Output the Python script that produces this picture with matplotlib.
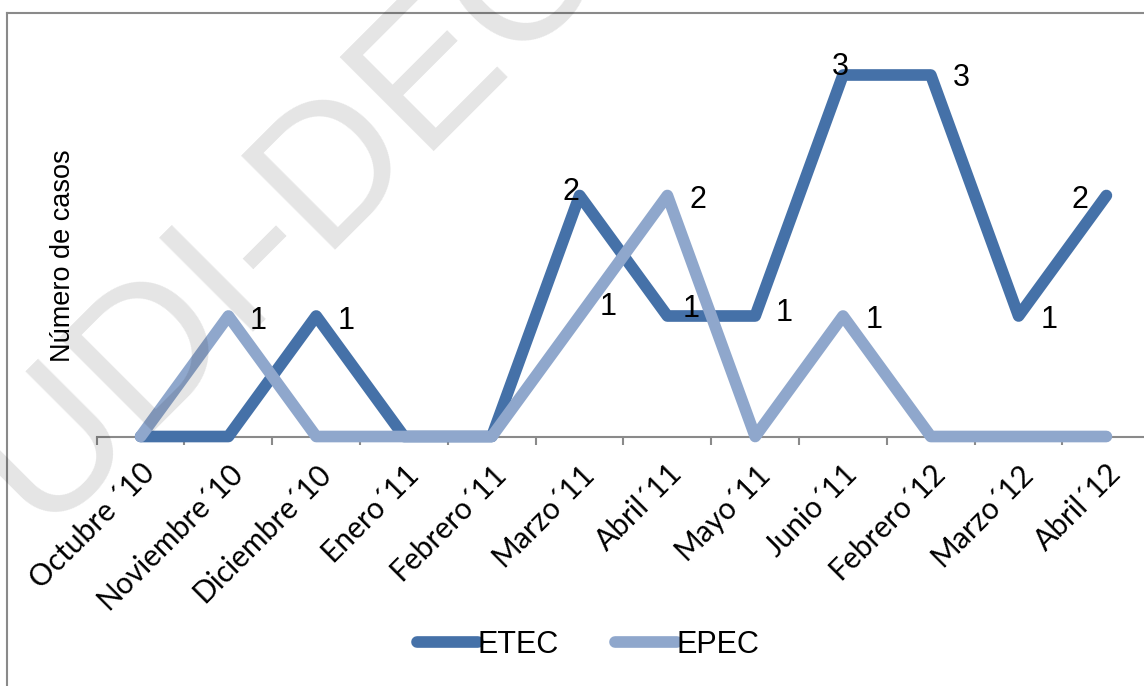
import matplotlib
matplotlib.use("Agg")
import matplotlib.pyplot as plt
from matplotlib.lines import Line2D

categories = ["Octubre \u00b410", "Noviembre\u00b410", "Diciembre\u00b410", "Enero\u00b411",
              "Febrero\u00b411", "Marzo\u00b411", "Abril\u00b411", "Mayo\u00b411",
              "Junio\u00b411", "Febrero\u00b412", "Marzo\u00b412", "Abril\u00b412"]
etec = [0, 0, 1, 0, 0, 2, 1, 1, 3, 3, 1, 2]
epec = [0, 1, 0, 0, 0, 1, 2, 0, 1, 0, 0, 0]
series_names = ["ETEC", "EPEC"]
y_label = "N\u00famero de casos"
watermark = "UDI-DEC"

# label offsets in pixels (dx right, dy down) relative to the point
etec_off = {2: (30, 2), 5: (-9, -7), 6: (24, -10), 7: (29, -6), 8: (-3, -11),
            9: (31, 0), 10: (31, 1), 11: (-26, 1)}
epec_off = {1: (30, 2), 5: (29, -12), 6: (31, 1), 8: (31, 1)}

W, H = 1144, 686
fig = plt.figure(figsize=(W / 100, H / 100), dpi=100)
fig.patch.set_facecolor("white")

x0, y0 = 96.7, 436.5
step, unit = 87.8, 120.5
ymax = 3.5
ax = fig.add_axes([x0 / W, 1 - y0 / H, 12 * step / W, ymax * unit / H])
ax.set_xlim(-0.5, 11.5)
ax.set_ylim(0, ymax)
ax.set_facecolor("none")

c_etec = "#4571a8"
c_epec = "#8fa7cc"
lw = 8.4
xs = list(range(len(categories)))
l1, = ax.plot(xs, etec, color=c_etec, lw=lw, solid_capstyle="round",
              solid_joinstyle="round", clip_on=False, zorder=3, label=series_names[0])
l2, = ax.plot(xs, epec, color=c_epec, lw=lw, solid_capstyle="round",
              solid_joinstyle="round", clip_on=False, zorder=4, label=series_names[1])

for s in ["top", "right", "left"]:
    ax.spines[s].set_visible(False)
ax.spines["bottom"].set_color("#8a8a8a")
ax.spines["bottom"].set_linewidth(1.5)
ax.spines["bottom"].set_zorder(1)
ax.set_yticks([])

ax.set_xticks(xs)
ax.set_xticklabels(categories, rotation=45, ha="right", va="top",
                   rotation_mode="anchor", fontsize=21.5, family=["Lato", "DejaVu Sans"])
ax.tick_params(axis="x", which="major", length=0, pad=16)
ax.set_xticks([i - 0.5 for i in range(13)], minor=True)
ax.tick_params(axis="x", which="minor", length=6, width=1.5, color="#8a8a8a",
               direction="out")

lab_font = dict(fontsize=22, family="Liberation Sans", color="black",
                ha="center", va="baseline", zorder=6)
for vals, offs in ((etec, etec_off), (epec, epec_off)):
    for i, (dx, dy) in offs.items():
        ax.annotate(str(vals[i]), (i, vals[i]), xytext=(dx, -(dy + 11)),
                    textcoords="offset pixels", annotation_clip=False, **lab_font)

fig.text(63 / W, 1 - 256 / H, y_label, rotation=90, ha="center", va="center",
         fontsize=19.5, family="Liberation Sans")

leg = fig.legend(handles=[l1, l2], loc="center",
                 bbox_to_anchor=(588 / W, 1 - 645 / H), ncol=2, frameon=False,
                 handlelength=2.0, handletextpad=0.0, columnspacing=1.85,
                 prop={"family": "Liberation Sans", "size": 22})
for h in leg.get_lines():
    h.set_solid_capstyle("round")

# outer chart border (top and left visible)
fig.add_artist(Line2D([6.5 / W, 1.0], [1 - 12.5 / H, 1 - 12.5 / H],
                      color="#8a8a8a", lw=1.5, transform=fig.transFigure))
fig.add_artist(Line2D([6.5 / W, 6.5 / W], [1 - 12.5 / H, 0.0],
                      color="#8a8a8a", lw=1.5, transform=fig.transFigure))

# watermark
fig.text(40 / W, 1 - 531 / H, watermark, rotation=45, rotation_mode="anchor",
         ha="left", va="baseline", fontsize=139, family="Liberation Sans",
         color="black", alpha=0.105, zorder=10)

fig.savefig("out.png", dpi=100)
